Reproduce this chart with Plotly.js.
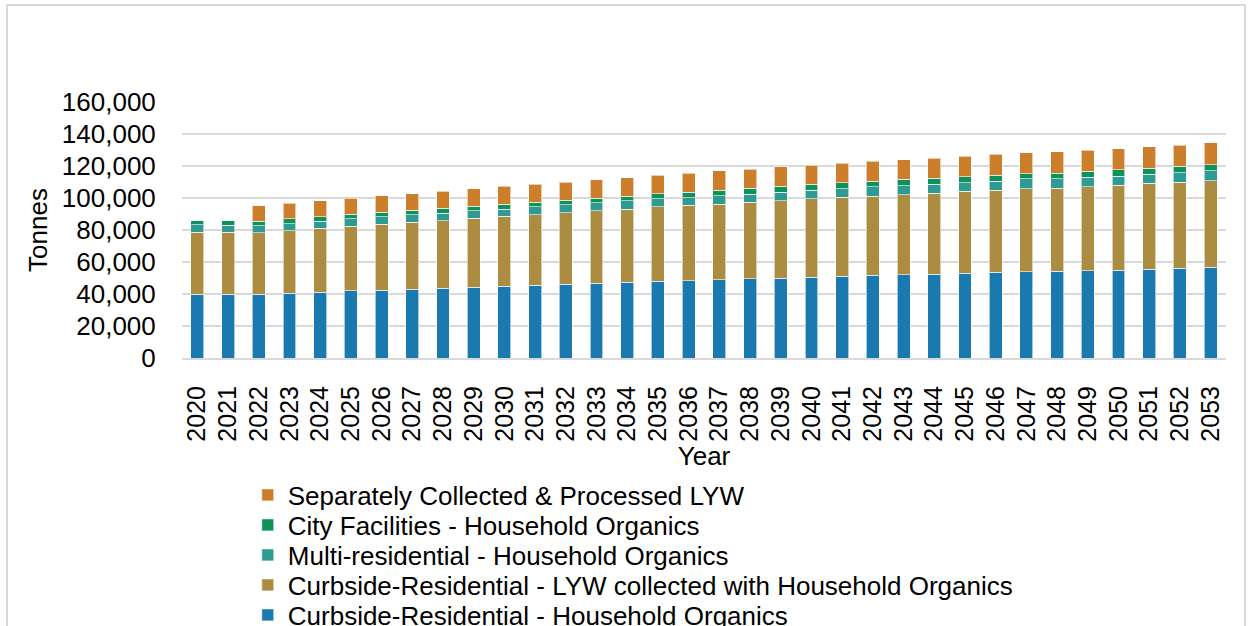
<!DOCTYPE html>
<html>
<head>
<meta charset="utf-8">
<script src="https://cdn.plot.ly/plotly-3.0.1.min.js"></script>
<style>
  body { margin: 0; background: #fff; }
  #chart { position: absolute; left: 0; top: 0; width: 1253px; height: 626px; }
  #frame { position: absolute; left: 6px; top: 4px; width: 1236px; height: 640px;
           border: 2px solid #d9d9d9; pointer-events: none; }
</style>
</head>
<body>
<div id="chart"></div>
<div id="frame"></div>
<script>
// years on the x axis
var years = [];
for (var yr = 2020; yr <= 2053; yr++) years.push(String(yr));

// tonnes
var curbsideHH = [40000, 40000, 40000, 40600, 41250, 41900, 42500, 43100, 43600, 44200,
  44800, 45400, 46000, 46700, 47300, 47900, 48400, 49000, 49600, 50000,
  50400, 51000, 51700, 52100, 52500, 52900, 53500, 54000, 54200, 54600,
  55000, 55400, 56000, 56700];
var curbsideLYW = [38500, 38500, 38300, 39000, 39750, 40400, 41000, 41700, 42300, 43100,
  43700, 44200, 44800, 45200, 45800, 46500, 47000, 47000, 47700, 48300,
  49000, 49400, 49550, 50000, 50600, 51300, 51300, 51800, 52050, 52500,
  53100, 53800, 54000, 54100];
var multiRes = [4800, 4600, 4400, 4400, 4400, 4800, 4800, 4800, 4600, 4600,
  4600, 5000, 5000, 5000, 5200, 5200, 4900, 5500, 5200, 5450,
  5600, 5400, 5850, 5600, 5650, 5400, 5800, 6100, 5850, 5800,
  5650, 5600, 5800, 6300];
var cityFac = [2500, 2700, 2700, 2900, 2900, 2700, 2950, 2900, 3100, 3100,
  3150, 2900, 2950, 3100, 2950, 3100, 3450, 3500, 3500, 3550,
  3500, 3600, 3500, 4000, 3550, 3700, 3600, 3300, 3500, 3800,
  3950, 3950, 4000, 3700];
var separateLYW = [0, 0, 9800, 9800, 10000, 10000, 10250, 10200, 10500, 10800,
  11000, 11000, 11000, 11500, 11450, 11500, 11650, 11900, 12100, 12100,
  12100, 12300, 12300, 12300, 12700, 12700, 13100, 13100, 13400, 13100,
  13100, 13350, 13300, 13600];

var seriesNames = [
  "Curbside-Residential - Household Organics",
  "Curbside-Residential - LYW collected with Household Organics",
  "Multi-residential - Household Organics",
  "City Facilities - Household Organics",
  "Separately Collected & Processed LYW"
];
var seriesValues = [curbsideHH, curbsideLYW, multiRes, cityFac, separateLYW];
var seriesColors = ["#1a7ab0", "#ab8c41", "#2f9a92", "#0f9159", "#cd7e2b"];

var axisFont = { family: "Liberation Sans, Arial, sans-serif", size: 26, color: "#000" };
var xTickFont = { family: "Liberation Sans, Arial, sans-serif", size: 25, color: "#000" };
var legendFont = { family: "Liberation Sans, Arial, sans-serif", size: 26, color: "#000" };

// one legend box per series so the rows sit 30px apart like the original
var legendIds = ["legend5", "legend4", "legend3", "legend2", "legend"];
var legendRowY = [615, 585, 555, 525, 495];

var data = seriesNames.map(function (name, i) {
  return {
    type: "bar",
    name: name,
    x: years,
    y: seriesValues[i],
    legend: legendIds[i],
    marker: {
      color: seriesColors[i],
      line: { color: "rgba(255,255,255,0.6)", width: 1 }
    },
    hovertemplate: "%{x}: %{y:,}<extra>" + name + "</extra>"
  };
});

var layout = {
  width: 1253,
  height: 626,
  barmode: "stack",
  bargap: 0.58,
  paper_bgcolor: "#fff",
  plot_bgcolor: "#fff",
  font: axisFont,
  separators: ".,",
  margin: { l: 182, r: 27, t: 102, b: 268 },
  showlegend: true,
  xaxis: {
    type: "category",
    automargin: false,
    tickangle: -90,
    tickfont: xTickFont,
    showgrid: false,
    showline: true,
    linecolor: "#d9d9d9",
    linewidth: 2,
    ticks: "outside",
    ticklen: 16,
    tickcolor: "rgba(0,0,0,0)",
    title: { text: "Year", font: axisFont, standoff: 11 }
  },
  yaxis: {
    range: [0, 160000],
    automargin: false,
    dtick: 20000,
    tickformat: ",d",
    tickfont: axisFont,
    gridcolor: "#d9d9d9",
    gridwidth: 1.5,
    zeroline: false,
    ticks: "outside",
    ticklen: 20,
    tickcolor: "rgba(0,0,0,0)",
    title: { text: "Tonnes", font: axisFont, standoff: 6 }
  }
};

legendIds.forEach(function (id, i) {
  layout[id] = {
    orientation: "v",
    xref: "paper",
    x: 0.063,
    xanchor: "left",
    yref: "container",
    y: 1 - legendRowY[i] / 626,
    yanchor: "middle",
    font: legendFont,
    bgcolor: "rgba(0,0,0,0)"
  };
});

document.addEventListener("DOMContentLoaded", function () {
  Plotly.newPlot("chart", data, layout, { displayModeBar: false, staticPlot: true });
});
</script>
</body>
</html>
